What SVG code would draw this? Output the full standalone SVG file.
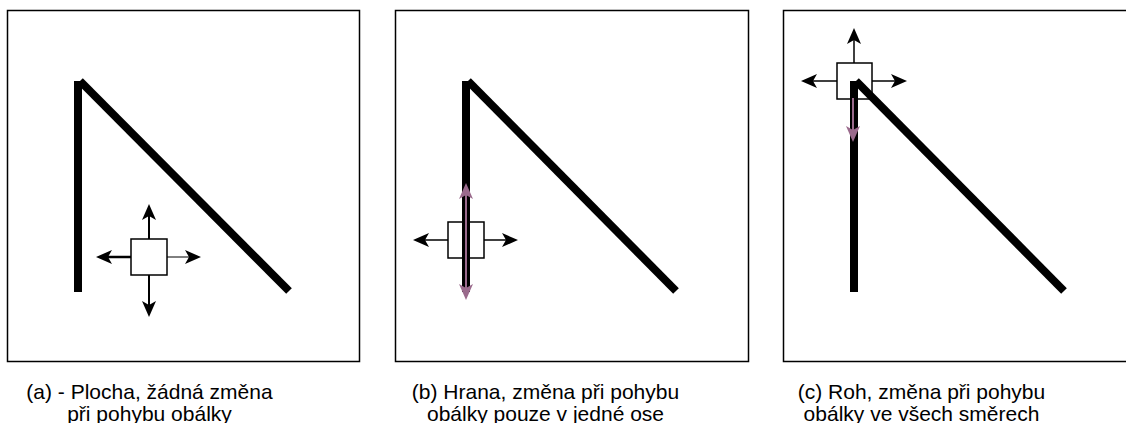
<svg xmlns="http://www.w3.org/2000/svg" width="1126" height="423" viewBox="0 0 1126 423">
<style>
.frame{fill:#fff;stroke:#000;stroke-width:1.5}
.env{fill:#fff;stroke:#000;stroke-width:1.5}
.thick{fill:none;stroke:#000;stroke-width:8}
.arr{fill:none;stroke:#000;stroke-width:1.5}
.parr{fill:none;stroke:#9a6a8c;stroke-width:2}
.cap{font-family:"Liberation Sans",Arial,sans-serif;font-size:21px;fill:#000;text-anchor:middle}
</style>
<defs>
<marker id="ah" markerUnits="userSpaceOnUse" markerWidth="16" markerHeight="14" refX="10" refY="7" orient="auto" overflow="visible">
<path d="M0,0 L16,7 L0,14 L4,7 Z" fill="#000"/>
</marker>
<marker id="ahp" markerUnits="userSpaceOnUse" markerWidth="16" markerHeight="14" refX="10" refY="7" orient="auto" overflow="visible">
<path d="M0,0 L16,7 L0,14 L4,7 Z" fill="#9a6a8c"/>
</marker>
<marker id="ahps" markerUnits="userSpaceOnUse" markerWidth="16" markerHeight="14" refX="6" refY="7" orient="auto-start-reverse" overflow="visible">
<path d="M0,0 L16,7 L0,14 L4,7 Z" fill="#9a6a8c"/>
</marker>
</defs>
<g id="panel-a">
<rect class="frame" x="7.5" y="10.5" width="352" height="351"/>
<rect class="env" x="131" y="239" width="36" height="36"/>
</g>
<g id="panel-b">
<rect class="frame" x="395.5" y="10.5" width="353" height="351"/>
<rect class="env" x="448" y="222" width="36" height="36"/>
</g>
<g id="panel-c">
<rect class="frame" x="783.5" y="10.5" width="360" height="351"/>
<rect class="env" x="837" y="63" width="35" height="36"/>
</g>
<g id="shapes">
<line class="thick" x1="78" y1="292" x2="78" y2="81"/>
<line class="thick" x1="80" y1="81" x2="289" y2="291"/>
<line class="thick" x1="466" y1="292" x2="466" y2="81"/>
<line class="thick" x1="468" y1="81" x2="676" y2="291"/>
<line class="thick" x1="854" y1="292" x2="854" y2="81"/>
<line class="thick" x1="856" y1="81" x2="1064" y2="291"/>
</g>
<g id="connectors">
<line class="arr" x1="149" y1="239" x2="149" y2="210" marker-end="url(#ah)" style="stroke-width:2"/>
<line class="arr" x1="149" y1="275" x2="149" y2="311" marker-end="url(#ah)" style="stroke-width:2"/>
<line class="arr" x1="131" y1="257" x2="102" y2="257" marker-end="url(#ah)" style="stroke-width:2.5"/>
<line class="arr" x1="167" y1="257" x2="195" y2="257" marker-end="url(#ah)" style="stroke-width:1"/>
<line class="arr" x1="448" y1="240" x2="419" y2="240" marker-end="url(#ah)"/>
<line class="arr" x1="484" y1="240" x2="512" y2="240" marker-end="url(#ah)"/>
<line class="parr" x1="466" y1="193" x2="466" y2="294" marker-start="url(#ahps)" marker-end="url(#ahp)"/>
<line class="arr" x1="854" y1="63" x2="854" y2="34" marker-end="url(#ah)"/>
<line class="arr" x1="837" y1="81" x2="807" y2="81" marker-end="url(#ah)"/>
<line class="arr" x1="872" y1="81" x2="901" y2="81" marker-end="url(#ah)"/>
<line class="parr" x1="853" y1="98" x2="853" y2="136" marker-end="url(#ahp)"/>
</g>
<g id="captions">
<text class="cap" x="149.5" y="399">(a) - Plocha, žádná změna</text>
<text class="cap" x="149.5" y="421">při pohybu obálky</text>
<text class="cap" x="545.5" y="399">(b) Hrana, změna při pohybu</text>
<text class="cap" x="545.5" y="421">obálky pouze v jedné ose</text>
<text class="cap" x="921.5" y="399">(c) Roh, změna při pohybu</text>
<text class="cap" x="921.5" y="421">obálky ve všech směrech</text>
</g>
</svg>
